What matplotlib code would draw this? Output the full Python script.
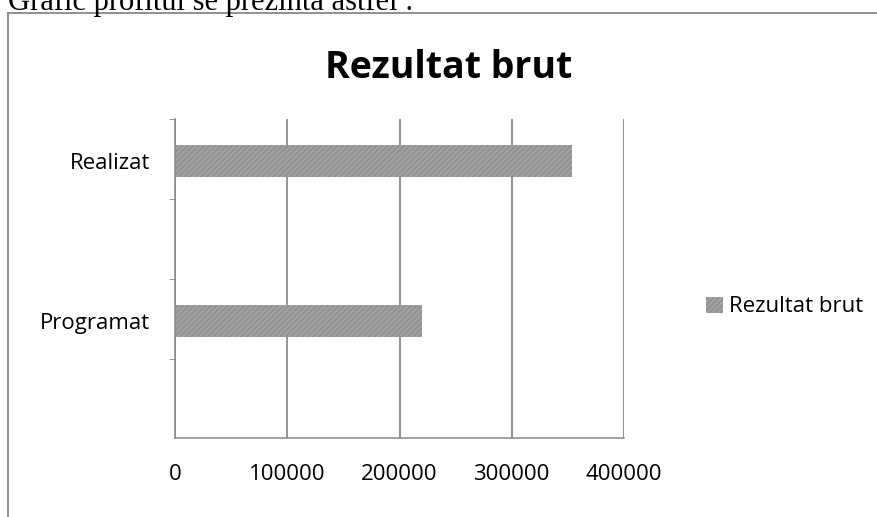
import matplotlib
matplotlib.use("Agg")
import matplotlib.pyplot as plt
from matplotlib.lines import Line2D
from matplotlib.patches import Patch

categories = ["Programat", "Realizat"]
values = [220000, 354000]
series_name = "Rezultat brut"
xticks = [0, 100000, 200000, 300000, 400000]
xtick_labels = ["0", "100000", "200000", "300000", "400000"]

plt.rcParams['font.family'] = ['Open Sans', 'DejaVu Sans']
plt.rcParams['hatch.color'] = '#6a6a6a'
plt.rcParams['hatch.linewidth'] = 0.8

W, H = 877, 517
fig = plt.figure(figsize=(W / 100, H / 100), dpi=100)
fig.patch.set_facecolor('white')

ax = fig.add_axes([175 / W, 1 - 438 / H, (624 - 175) / W, (438 - 119) / H])
ypos = list(range(len(categories)))
ax.barh(ypos, values, height=0.2, color='#a0a0a0', hatch='//////', edgecolor='#8a8a8a', linewidth=0,
        label=series_name)
ax.set_xlim(0, 400000)
ax.set_ylim(-0.73, 1.2625)
ax.set_xticks(xticks)
ax.set_xticklabels(xtick_labels, fontsize=16)
ax.set_yticks(ypos)
ax.set_yticklabels(categories, fontsize=16)
ax.set_yticks([-0.2375, 0.2625, 0.7625, 1.2625], minor=True)
ax.tick_params(axis='y', which='major', length=0, pad=18)
ax.tick_params(axis='y', which='minor', length=4, color='#888888', direction='out')
ax.tick_params(axis='x', length=0, pad=19)
ax.grid(axis='x', color='#777777', linewidth=1.1)
ax.set_axisbelow(True)
for s in ['top', 'right']:
    ax.spines[s].set_visible(False)
for s in ['left', 'bottom']:
    ax.spines[s].set_color('#888888')
    ax.spines[s].set_linewidth(1.1)

fig.text(449 / W, 1 - 78 / H, "Rezultat brut", ha='center', va='baseline', fontsize=27, fontweight='bold')

leg = fig.legend(handles=[Patch(facecolor='#a0a0a0', hatch='//////', edgecolor='#8a8a8a', linewidth=0)],
                 labels=[series_name], loc='center left', bbox_to_anchor=(686 / W, 1 - 307 / H),
                 frameon=False, fontsize=16, handlelength=0.75, handleheight=0.7, handletextpad=0.3)

# frame of the embedded chart
fig.add_artist(Line2D([8 / W, 1], [1 - 12.5 / H, 1 - 12.5 / H], transform=fig.transFigure, color='#888888', lw=1.3))
fig.add_artist(Line2D([8 / W, 8 / W], [0, 1 - 12.5 / H], transform=fig.transFigure, color='#888888', lw=1.3))

# cut-off document text above the chart
fig.text(8 / W, 1 - 10 / H, "Grafic profitul se prezinta astfel :", ha='left', va='baseline',
         fontsize=22, family=['Liberation Serif', 'DejaVu Serif'])

fig.savefig("out.png", dpi=100)
